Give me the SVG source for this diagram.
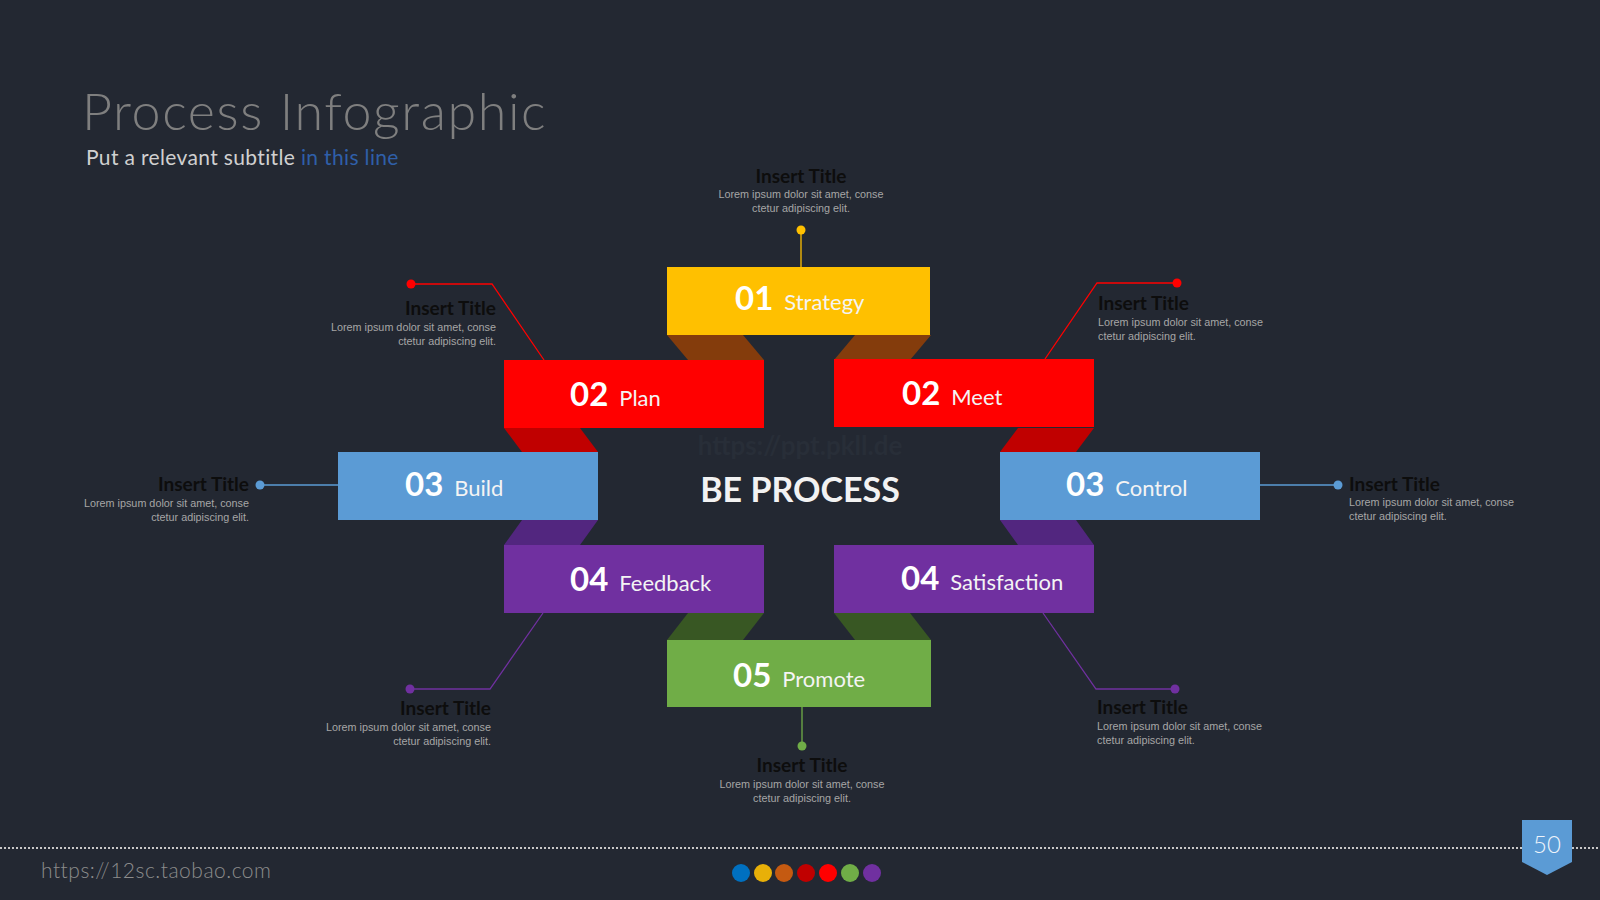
<svg xmlns="http://www.w3.org/2000/svg" width="1600" height="900" viewBox="0 0 1600 900">
<style>
.num{font-family:Lato,"Liberation Sans",sans-serif;font-weight:bold;font-size:33px;fill:#ffffff}
.lbl{font-family:Lato,"Liberation Sans",sans-serif;font-size:22px;fill:#f4f4f4;font-weight:normal}
.ct{font-family:Lato,"Liberation Sans",sans-serif;font-weight:bold;font-size:19px;fill:#0d0d0d}
.lo{font-family:"Liberation Sans",Arial,sans-serif;font-size:10.8px;fill:#a6a6a6}
.ln{fill:none;stroke-width:1.3}
</style>
<rect x="0" y="0" width="1600" height="900" fill="#232832"/>
<g id="header">
<text x="82" y="130" font-family="Lato,'Liberation Sans',sans-serif" font-weight="300" font-size="52" letter-spacing="1.6" fill="#7f7f7f">Process Infographic</text>
<text x="86" y="165" font-family="Lato,'Liberation Sans',sans-serif" font-size="21" letter-spacing="0.35" fill="#d0d0d0">Put a relevant subtitle <tspan fill="#2f5fa8">in this line</tspan></text>
</g>
<text x="800" y="455" text-anchor="middle" font-family="Lato,'Liberation Sans',sans-serif" font-weight="bold" font-size="26" fill="#282e38">https://ppt.pkll.de</text>
<g id="ribbon-folds">
<polygon points="667,335 743,335 764,360 688,360" fill="#843c0c"/>
<polygon points="855,335 931,335 910,360 834,360" fill="#843c0c"/>
<polygon points="504,428 580,428 598,452 522,452" fill="#c00000"/>
<polygon points="1018,428 1094,428 1076,452 1000,452" fill="#c00000"/>
<polygon points="522,520 598,520 580,545 504,545" fill="#52267f"/>
<polygon points="1000,520 1076,520 1094,545 1018,545" fill="#52267f"/>
<polygon points="688,613 764,613 743,640 667,640" fill="#385723"/>
<polygon points="834,613 910,613 931,640 855,640" fill="#385723"/>
</g>
<g id="connectors">
<line class="ln" x1="801" y1="230" x2="801" y2="267" stroke="#ffc000"/>
<polyline class="ln" points="411,284 492,284 544,360" stroke="#ff0000"/>
<polyline class="ln" points="1177,283 1097,283 1045,359" stroke="#ff0000"/>
<line class="ln" x1="260" y1="485" x2="338" y2="485" stroke="#5b9bd5"/>
<line class="ln" x1="1260" y1="485" x2="1338" y2="485" stroke="#5b9bd5"/>
<polyline class="ln" points="543,613 490,689 410,689" stroke="#7030a0"/>
<polyline class="ln" points="1043,613 1096,689 1175,689" stroke="#7030a0"/>
<line class="ln" x1="802" y1="707" x2="802" y2="746" stroke="#70ad47"/>
</g>
<g id="node-strategy">
<rect x="667" y="267" width="263" height="68" fill="#ffc000"/>
<text x="735" y="310"><tspan class="num">01</tspan><tspan class="lbl" dx="11">Strategy</tspan></text>
</g>
<g id="node-plan">
<rect x="504" y="360" width="260" height="68" fill="#ff0000"/>
<text x="570" y="406"><tspan class="num">02</tspan><tspan class="lbl" dx="11">Plan</tspan></text>
</g>
<g id="node-meet">
<rect x="834" y="359" width="260" height="68" fill="#ff0000"/>
<text x="902" y="405"><tspan class="num">02</tspan><tspan class="lbl" dx="11">Meet</tspan></text>
</g>
<g id="node-build">
<rect x="338" y="452" width="260" height="68" fill="#5b9bd5"/>
<text x="405" y="496"><tspan class="num">03</tspan><tspan class="lbl" dx="11">Build</tspan></text>
</g>
<g id="node-control">
<rect x="1000" y="452" width="260" height="68" fill="#5b9bd5"/>
<text x="1066" y="496"><tspan class="num">03</tspan><tspan class="lbl" dx="11">Control</tspan></text>
</g>
<g id="node-feedback">
<rect x="504" y="545" width="260" height="68" fill="#7030a0"/>
<text x="570" y="591"><tspan class="num">04</tspan><tspan class="lbl" dx="11">Feedback</tspan></text>
</g>
<g id="node-satisfaction">
<rect x="834" y="545" width="260" height="68" fill="#7030a0"/>
<text x="901" y="590"><tspan class="num">04</tspan><tspan class="lbl" dx="11">Satisfaction</tspan></text>
</g>
<g id="node-promote">
<rect x="667" y="640" width="264" height="67" fill="#70ad47"/>
<text x="733" y="687"><tspan class="num">05</tspan><tspan class="lbl" dx="11">Promote</tspan></text>
</g>
<g id="center-title">
<text x="800" y="502" text-anchor="middle" font-family="Lato,'Liberation Sans',sans-serif" font-weight="bold" font-size="34" fill="#f2f2f2">BE PROCESS</text>
</g>
<g id="callout-top">
<circle cx="801" cy="230" r="4.5" fill="#ffc000"/>
<text class="ct" x="801" y="183" text-anchor="middle">Insert Title</text>
<text class="lo" x="801" y="198" text-anchor="middle">Lorem ipsum dolor sit amet, conse</text>
<text class="lo" x="801" y="212" text-anchor="middle">ctetur adipiscing elit.</text>
</g>
<g id="callout-plan">
<circle cx="411" cy="284" r="4.5" fill="#ff0000"/>
<text class="ct" x="496" y="315" text-anchor="end">Insert Title</text>
<text class="lo" x="496" y="331" text-anchor="end">Lorem ipsum dolor sit amet, conse</text>
<text class="lo" x="496" y="345" text-anchor="end">ctetur adipiscing elit.</text>
</g>
<g id="callout-meet">
<circle cx="1177" cy="283" r="4.5" fill="#ff0000"/>
<text class="ct" x="1098" y="310">Insert Title</text>
<text class="lo" x="1098" y="326">Lorem ipsum dolor sit amet, conse</text>
<text class="lo" x="1098" y="340">ctetur adipiscing elit.</text>
</g>
<g id="callout-build">
<circle cx="260" cy="485" r="4.5" fill="#5b9bd5"/>
<text class="ct" x="249" y="491" text-anchor="end">Insert Title</text>
<text class="lo" x="249" y="507" text-anchor="end">Lorem ipsum dolor sit amet, conse</text>
<text class="lo" x="249" y="521" text-anchor="end">ctetur adipiscing elit.</text>
</g>
<g id="callout-control">
<circle cx="1338" cy="485" r="4.5" fill="#5b9bd5"/>
<text class="ct" x="1349" y="491">Insert Title</text>
<text class="lo" x="1349" y="506">Lorem ipsum dolor sit amet, conse</text>
<text class="lo" x="1349" y="520">ctetur adipiscing elit.</text>
</g>
<g id="callout-feedback">
<circle cx="410" cy="689" r="4.5" fill="#7030a0"/>
<text class="ct" x="491" y="715" text-anchor="end">Insert Title</text>
<text class="lo" x="491" y="731" text-anchor="end">Lorem ipsum dolor sit amet, conse</text>
<text class="lo" x="491" y="745" text-anchor="end">ctetur adipiscing elit.</text>
</g>
<g id="callout-satisfaction">
<circle cx="1175" cy="689" r="4.5" fill="#7030a0"/>
<text class="ct" x="1097" y="714">Insert Title</text>
<text class="lo" x="1097" y="730">Lorem ipsum dolor sit amet, conse</text>
<text class="lo" x="1097" y="744">ctetur adipiscing elit.</text>
</g>
<g id="callout-promote">
<circle cx="802" cy="746" r="4.5" fill="#70ad47"/>
<text class="ct" x="802" y="772" text-anchor="middle">Insert Title</text>
<text class="lo" x="802" y="788" text-anchor="middle">Lorem ipsum dolor sit amet, conse</text>
<text class="lo" x="802" y="802" text-anchor="middle">ctetur adipiscing elit.</text>
</g>
<g id="footer">
<line x1="0" y1="848" x2="1522" y2="848" stroke="#c8c8c8" stroke-width="2" stroke-dasharray="2 2"/>
<line x1="1572" y1="848" x2="1600" y2="848" stroke="#c8c8c8" stroke-width="2" stroke-dasharray="2 2"/>
<polygon points="1522,820 1572,820 1572,862 1547,875 1522,862" fill="#5b9bd5"/>
<text x="1547" y="853" text-anchor="middle" font-family="Lato,'Liberation Sans',sans-serif" font-weight="300" font-size="24" fill="#eef4fb">50</text>
<text x="41" y="878" font-family="Lato,'Liberation Sans',sans-serif" font-weight="300" font-size="21" letter-spacing="0.5" fill="#8c8c8c">https://12sc.taobao.com</text>
<circle cx="741" cy="873" r="9" fill="#0070c0"/>
<circle cx="763" cy="873" r="9" fill="#e8b008"/>
<circle cx="784" cy="873" r="9" fill="#c55a11"/>
<circle cx="806" cy="873" r="9" fill="#c00000"/>
<circle cx="828" cy="873" r="9" fill="#ff0000"/>
<circle cx="850" cy="873" r="9" fill="#70ad47"/>
<circle cx="872" cy="873" r="9" fill="#7030a0"/>
</g>
</svg>
